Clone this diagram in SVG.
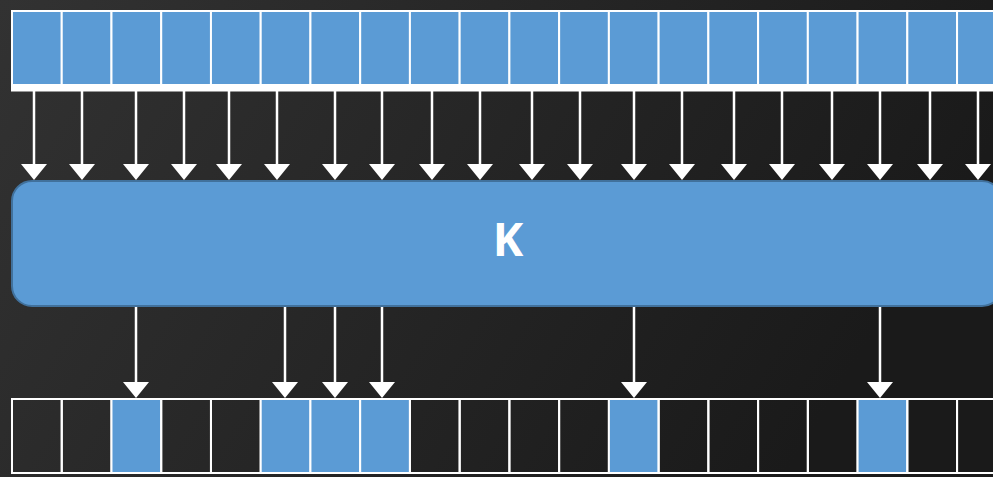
<svg xmlns="http://www.w3.org/2000/svg" width="993" height="477" viewBox="0 0 993 477">
<defs>
<linearGradient id="bg" x1="0" y1="0" x2="1" y2="0.3">
<stop offset="0" stop-color="#323232"/>
<stop offset="1" stop-color="#1a1a1a"/>
</linearGradient>
<marker id="ah" markerUnits="userSpaceOnUse" markerWidth="17" markerHeight="26" refX="6" refY="13" orient="auto" viewBox="0 0 17 26">
<path d="M0,0 L16,13 L0,26 Z" fill="#ffffff"/>
</marker>
<style>
.cell{stroke:#ffffff;stroke-width:2}
.blue{fill:#5b9bd5}
.empty{fill:none}
.arrow{stroke:#ffffff;stroke-width:2.5;fill:none;marker-end:url(#ah)}
.klabel{font-family:"Open Sans","Liberation Sans",sans-serif;font-weight:bold;font-size:46px;fill:#ffffff}
</style>
</defs>
<rect x="0" y="0" width="993" height="477" fill="url(#bg)"/>

<g id="input-row">
<rect x="11" y="84" width="1000" height="7.5" fill="#ffffff"/>
<rect class="cell blue" x="12" y="11" width="49.74" height="74"/>
<rect class="cell blue" x="61.74" y="11" width="49.74" height="74"/>
<rect class="cell blue" x="111.48" y="11" width="49.74" height="74"/>
<rect class="cell blue" x="161.22" y="11" width="49.74" height="74"/>
<rect class="cell blue" x="210.96" y="11" width="49.74" height="74"/>
<rect class="cell blue" x="260.7" y="11" width="49.74" height="74"/>
<rect class="cell blue" x="310.44" y="11" width="49.74" height="74"/>
<rect class="cell blue" x="360.18" y="11" width="49.74" height="74"/>
<rect class="cell blue" x="409.92" y="11" width="49.74" height="74"/>
<rect class="cell blue" x="459.66" y="11" width="49.74" height="74"/>
<rect class="cell blue" x="509.4" y="11" width="49.74" height="74"/>
<rect class="cell blue" x="559.14" y="11" width="49.74" height="74"/>
<rect class="cell blue" x="608.88" y="11" width="49.74" height="74"/>
<rect class="cell blue" x="658.62" y="11" width="49.74" height="74"/>
<rect class="cell blue" x="708.36" y="11" width="49.74" height="74"/>
<rect class="cell blue" x="758.1" y="11" width="49.74" height="74"/>
<rect class="cell blue" x="807.84" y="11" width="49.74" height="74"/>
<rect class="cell blue" x="857.58" y="11" width="49.74" height="74"/>
<rect class="cell blue" x="907.32" y="11" width="49.74" height="74"/>
<rect class="cell blue" x="957.06" y="11" width="49.74" height="74"/>
</g>

<g id="connectors">
<line class="arrow" x1="34" y1="91" x2="34" y2="170"/>
<line class="arrow" x1="82" y1="91" x2="82" y2="170"/>
<line class="arrow" x1="136" y1="91" x2="136" y2="170"/>
<line class="arrow" x1="184" y1="91" x2="184" y2="170"/>
<line class="arrow" x1="229" y1="91" x2="229" y2="170"/>
<line class="arrow" x1="277" y1="91" x2="277" y2="170"/>
<line class="arrow" x1="335" y1="91" x2="335" y2="170"/>
<line class="arrow" x1="382" y1="91" x2="382" y2="170"/>
<line class="arrow" x1="432" y1="91" x2="432" y2="170"/>
<line class="arrow" x1="480" y1="91" x2="480" y2="170"/>
<line class="arrow" x1="532" y1="91" x2="532" y2="170"/>
<line class="arrow" x1="580" y1="91" x2="580" y2="170"/>
<line class="arrow" x1="634" y1="91" x2="634" y2="170"/>
<line class="arrow" x1="682" y1="91" x2="682" y2="170"/>
<line class="arrow" x1="734" y1="91" x2="734" y2="170"/>
<line class="arrow" x1="782" y1="91" x2="782" y2="170"/>
<line class="arrow" x1="832" y1="91" x2="832" y2="170"/>
<line class="arrow" x1="880" y1="91" x2="880" y2="170"/>
<line class="arrow" x1="930" y1="91" x2="930" y2="170"/>
<line class="arrow" x1="978" y1="91" x2="978" y2="170"/>
<line class="arrow" x1="136" y1="307" x2="136" y2="388"/>
<line class="arrow" x1="285" y1="307" x2="285" y2="388"/>
<line class="arrow" x1="335" y1="307" x2="335" y2="388"/>
<line class="arrow" x1="382" y1="307" x2="382" y2="388"/>
<line class="arrow" x1="634" y1="307" x2="634" y2="388"/>
<line class="arrow" x1="880" y1="307" x2="880" y2="388"/>
</g>

<g id="K">
<rect x="12" y="181" width="990" height="125" rx="20" ry="20" fill="#5b9bd5" stroke="#41719c" stroke-width="2"/>
<text class="klabel" x="508" y="256" text-anchor="middle">K</text>
</g>

<g id="output-row">
<rect class="cell empty" x="12" y="399" width="49.74" height="74"/>
<rect class="cell empty" x="61.74" y="399" width="49.74" height="74"/>
<rect class="cell blue" x="111.48" y="399" width="49.74" height="74"/>
<rect class="cell empty" x="161.22" y="399" width="49.74" height="74"/>
<rect class="cell empty" x="210.96" y="399" width="49.74" height="74"/>
<rect class="cell blue" x="260.7" y="399" width="49.74" height="74"/>
<rect class="cell blue" x="310.44" y="399" width="49.74" height="74"/>
<rect class="cell blue" x="360.18" y="399" width="49.74" height="74"/>
<rect class="cell empty" x="409.92" y="399" width="49.74" height="74"/>
<rect class="cell empty" x="459.66" y="399" width="49.74" height="74"/>
<rect class="cell empty" x="509.4" y="399" width="49.74" height="74"/>
<rect class="cell empty" x="559.14" y="399" width="49.74" height="74"/>
<rect class="cell blue" x="608.88" y="399" width="49.74" height="74"/>
<rect class="cell empty" x="658.62" y="399" width="49.74" height="74"/>
<rect class="cell empty" x="708.36" y="399" width="49.74" height="74"/>
<rect class="cell empty" x="758.1" y="399" width="49.74" height="74"/>
<rect class="cell empty" x="807.84" y="399" width="49.74" height="74"/>
<rect class="cell blue" x="857.58" y="399" width="49.74" height="74"/>
<rect class="cell empty" x="907.32" y="399" width="49.74" height="74"/>
<rect class="cell empty" x="957.06" y="399" width="49.74" height="74"/>
</g>
</svg>
